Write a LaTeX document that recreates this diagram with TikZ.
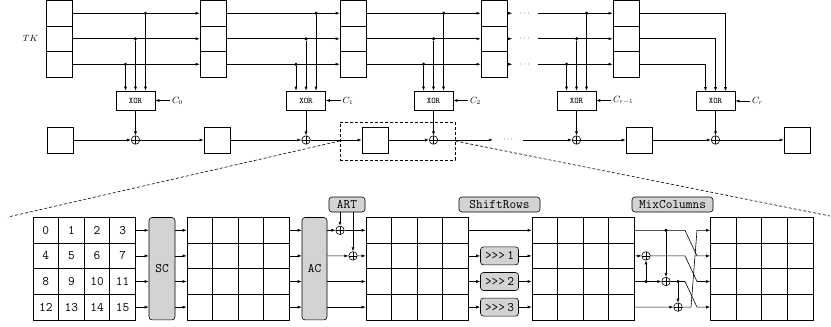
\documentclass[tikz,border=0pt]{standalone}
\usepackage{fontspec}
\usetikzlibrary{arrows.meta,positioning,calc}
\definecolor{boxgray}{RGB}{211,211,211}
\tikzset{
  wire/.style      = {line width=0.6pt},
  arr/.style       = {wire, -{Latex[length=4pt,width=3pt]}},
  keybox/.style    = {draw, line width=0.7pt, minimum width=26pt, minimum height=25.5pt, inner sep=0pt},
  statebox/.style  = {draw, line width=0.7pt, minimum size=26pt, inner sep=0pt},
  xorbox/.style    = {draw, line width=0.6pt, minimum width=39pt, minimum height=19pt,
                      inner sep=0pt, font=\ttfamily\fontsize{8.5}{10}\selectfont},
  clabel/.style    = {inner sep=1.5pt, font=\fontsize{9}{10}\selectfont},
  oplus/.style     = {circle, draw, line width=0.6pt, minimum size=8.5pt, inner sep=0pt,
                      path picture={\draw[line width=0.6pt]
                        (path picture bounding box.north) -- (path picture bounding box.south)
                        (path picture bounding box.west) -- (path picture bounding box.east);}},
  node dot/.style  = {circle, fill=black, inner sep=0pt, minimum size=3.5pt},
  ellip/.style     = {inner sep=0pt, font=\fontsize{8}{9}\selectfont},
  zoomline/.style  = {densely dashed, line width=0.6pt},
  cell/.style      = {draw, line width=0.7pt, minimum size=25.6pt, inner sep=0pt,
                      font=\ttfamily\fontsize{13}{15}\selectfont},
  opbox/.style     = {draw, line width=0.6pt, rounded corners=3pt, fill=boxgray, inner sep=0pt,
                      font=\ttfamily\fontsize{13}{15}\selectfont},
}

\begin{document}
\begin{tikzpicture}[x=1pt,y=-1pt]
  \useasboundingbox (0,0) rectangle (831,327);
  \def\ya{230.3} \def\yb{255.9} \def\yc{281.5} \def\yd{307.1}   % row heights of the state

  % ---------------- tweakey schedule -------------------------------------
  \foreach \c/\x in {1/59,2/213,3/353,4/494,5/626}
    \foreach \r in {1,2,3}
      \node[keybox] (k\c-\r) at (\x,{13.25+(\r-1)*25.5}) {};
  \node[clabel] (tk) at (30.5,38.75) {$TK$};

  \foreach \a/\b in {1/2,2/3,3/4}
    \foreach \r in {1,2,3}
      \draw[arr] (k\a-\r) -- (k\b-\r);
  \foreach \r in {1,2,3} {
    \path (k4-\r.east) ++(17.5,0) node[ellip, minimum width=25pt] (e\r) {$\cdots$};
    \draw[arr] (k4-\r) -- (e\r);
    \draw[arr] (e\r) -- (k5-\r);
  }

  \foreach \i/\x/\y in {0/135.5/100.5,1/306/100.5,2/433.5/100.5,3/576.5/100.5,4/715.5/101}
    \node[xorbox] (x\i) at (\x,\y) {XOR};
  \foreach \i in {0,...,4}
    \foreach \r/\d in {1/10,2/0,3/-10}
      \coordinate (x\i-in\r) at ([xshift=\d pt]x\i.north);

  \foreach \i in {0,...,3}
    \foreach \r in {1,2,3} {
      \node[node dot] (x\i-t\r) at (x\i-in\r |- k1-\r) {};
      \draw[arr] (x\i-t\r) -- (x\i-in\r);
    }
  \foreach \r in {1,2,3}
    \draw[arr] (k5-\r) -| (x4-in\r);

  \foreach \i/\t in {0/C_0,1/C_1,2/C_2,3/C_{r-1},4/C_r} {
    \node[clabel, right=15pt of x\i] (c\i) {$\t$};
    \draw[arr] (c\i) -- (x\i);
  }

  % ---------------- state path --------------------------------------------
  \node[statebox] (s1) at (60,140) {};
  \node[statebox] (s2) at (217,140) {};
  \node[statebox] (s3) at (375,140) {};
  \node[statebox] (s4) at (639,140) {};
  \node[statebox] (s5) at (797,140) {};
  \foreach \i in {0,...,4} {
    \node[oplus] (o\i) at (x\i |- s1) {};
    \draw[arr] (x\i) -- (o\i);
  }
  \node[ellip, minimum width=30pt] (be) at (508,140) {$\cdots$};
  \foreach \a/\b in {s1/o0,o0/s2,s2/o1,o1/s3,s3/o2,o2/be,be/o3,o3/s4,s4/o4,o4/s5}
    \draw[arr] (\a) -- (\b);

  \node[draw, zoomline, minimum width=115pt, minimum height=38pt, inner sep=0pt] (zoom) at (397.5,141) {};
  \coordinate (zl) at (8,217);
  \coordinate (zr) at (830,216);
  \draw[zoomline] (zoom.west) -- (zl);
  \draw[zoomline] (zoom.east) -- (zr);

  % ---------------- one round ---------------------------------------------
  \foreach \r in {1,...,4}
    \foreach \c in {1,...,4} {
      \pgfmathtruncatemacro\n{4*(\r-1)+\c-1}
      \node[cell] (g1-\r-\c) at ({33+(\c-0.5)*25.6},{217.5+(\r-0.5)*25.6}) {\n};
    }
  \foreach \g/\x in {2/187,3/366,4/532,5/710.5}
    \foreach \r in {1,...,4}
      \foreach \c in {1,...,4}
        \node[cell] (g\g-\r-\c) at ({\x+(\c-0.5)*25.6},{217.5+(\r-0.5)*25.6}) {};

  % SubCells, AddConstants
  \node[opbox, minimum width=26pt, minimum height=102.4pt] (sc) at (162,268.7) {SC};
  \node[opbox, minimum width=25pt, minimum height=102.4pt] (ac) at (314.5,268.7) {AC};
  \foreach \r in {1,...,4} {
    \draw[arr] (g1-\r-4.east) -- (g1-\r-4.east -| sc.west);
    \draw[arr] (g1-\r-4.east -| sc.east) -- (g2-\r-1.west);
    \draw[arr] (g2-\r-4.east) -- (g2-\r-4.east -| ac.west);
  }

  % AddRoundTweakey
  \node[opbox, minimum width=36pt, minimum height=15pt] (art) at (347,204.5) {ART};
  \node[oplus] (a1) at (340,\ya) {};
  \node[oplus] (a2) at (353,\yb) {};
  \draw[arr] (art.south -| a1) -- (a1);
  \draw[arr] (art.south -| a2) -- (a2);
  \draw[arr] (g2-1-4.east -| ac.east) -- (a1);
  \draw[arr] (a1) -- (g3-1-1.west);
  \draw[arr] (g2-2-4.east -| ac.east) -- (a2);
  \draw[arr] (a2) -- (g3-2-1.west);
  \draw[arr] (g2-3-4.east -| ac.east) -- (g3-3-1.west);
  \draw[arr] (g2-4-4.east -| ac.east) -- (g3-4-1.west);

  % ShiftRows
  \node[opbox, minimum width=81pt, minimum height=15pt] (sr) at (499.5,204.5) {ShiftRows};
  \draw[arr] (g3-1-4.east) -- (g4-1-1.west);
  \foreach \r/\s in {2/1,3/2,4/3} {
    \node[opbox, minimum width=38pt, minimum height=18pt] (rot\s) at (g3-\r-4.east -| sr) {>{}>{}>\,\s};
    \draw[arr] (g3-\r-4.east) -- (rot\s);
    \draw[arr] (rot\s) -- (g4-\r-1.west);
  }

  % MixColumns
  \node[opbox, minimum width=81pt, minimum height=15pt] (mc) at (672.5,204.5) {MixColumns};
  \node[oplus] (m2) at (646,\yb) {};
  \node[oplus] (m3) at (666,\yc) {};
  \node[oplus] (m4) at (678,\yd) {};
  \node[node dot] (d1) at (666,\ya) {};
  \node[node dot] (d3a) at (646,\yc) {};
  \node[node dot] (d3b) at (678,\yc) {};
  \draw[arr] (d3a) -- (m2);
  \draw[arr] (d1) -- (m3);
  \draw[arr] (d3b) -- (m4);
  \draw[arr] (g4-1-4.east) -- (685,\ya) -- (697,\yb) -- (g5-2-1.west);
  \draw[arr] (g4-2-4.east) -- (m2);
  \draw[arr] (m2) -- (685,\yb) -- (697,\yc) -- (g5-3-1.west);
  \draw[arr] (g4-3-4.east) -- (m3);
  \draw[arr] (m3) -- (685,\yc) -- (697,\yd) -- (g5-4-1.west);
  \draw[arr] (g4-4-4.east) -- (m4);
  \draw[arr] (m4) -- (691,\yd) -- (697,\ya) -- (g5-1-1.west);
\end{tikzpicture}
\end{document}
